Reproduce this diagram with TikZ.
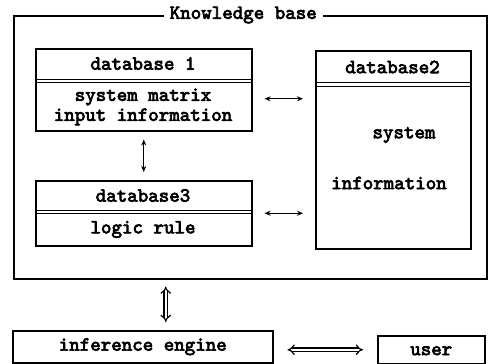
\documentclass[tikz,border=0pt]{standalone}
\usepackage{fontspec}
\newfontfamily\dbfont{lmmono10-regular.otf}[FakeBold=3.5]
\usetikzlibrary{arrows.meta,calc}
\begin{document}
\begin{tikzpicture}[x=1pt,y=-1pt,
  font=\dbfont\fontsize{20}{20}\selectfont,
  box/.style={draw, line width=1.5pt, inner sep=0pt, anchor=north west},
  sep/.style={line width=1pt},
  arr/.style={line width=1.2pt, {Stealth[length=6pt,width=5pt]}-{Stealth[length=6pt,width=5pt]}},
  dbl/.style={double, double distance=2.4pt, line width=1.2pt, {Implies}-{Implies}},
  lbl/.style={inner sep=1pt, align=center}]
\useasboundingbox (0,0) rectangle (488,364);

% knowledge base frame with its title set into the top edge
\node[box, minimum width=473pt, minimum height=263pt] (kb) at (13,15) {};
\node[fill=white, inner xsep=6pt, inner ysep=2pt] (kbt) at ([xshift=-7pt]kb.north) {Knowledge base};

% database 1
\node[box, minimum width=216pt, minimum height=82pt] (db1) at (35,48) {};
\draw[sep] (35,79) -- (251,79) (35,82) -- (251,82);
\node[lbl] (db1h) at (143,63.5) {database 1};
\node[lbl] (db1t) at (143,107) {system matrix\\input information};

% database 2
\node[box, minimum width=155pt, minimum height=198pt] (db2) at (315,50) {};
\draw[sep] (315,82) -- (470,82) (315,86) -- (470,86);
\node[lbl] (db2h) at (392.5,67) {database2};
\node[lbl] (db2a) at (404,135) {system};
\node[lbl] (db2b) at (389,183) {information};

% database 3
\node[box, minimum width=216pt, minimum height=65pt] (db3) at (35,180) {};
\draw[sep] (35,210) -- (251,210) (35,213) -- (251,213);
\node[lbl] (db3h) at (143,195.5) {database3};
\node[lbl] (db3t) at (143,229.5) {logic rule};

% inference engine and user
\node[box, minimum width=260pt, minimum height=32pt] (ie) at (12,330) {};
\node[lbl] (iet) at (ie.center) {inference engine};
\node[box, minimum width=107pt, minimum height=28pt] (user) at (377,335) {};
\node[lbl] (usert) at ([yshift=-1pt]user.center) {user};

% links between the databases
\draw[arr, shorten <=8pt, shorten >=8pt] (db1) -- (db3);
\draw[arr, shorten <=12pt, shorten >=12pt] ([yshift=-9pt]db1.east) -- ([yshift=-9pt]db1.east -| db2.west);
\draw[arr, shorten <=12pt, shorten >=12pt] (db3.east) -- (db3.east -| db2.west);

% links to the inference engine
\draw[dbl, shorten <=8pt, shorten >=7pt] ([xshift=23pt]ie.north) -- ([xshift=23pt]ie.north |- kb.south);
\draw[dbl, shorten <=14pt, shorten >=14pt] (ie.east |- user.center) -- (user.west);
\end{tikzpicture}
\end{document}
